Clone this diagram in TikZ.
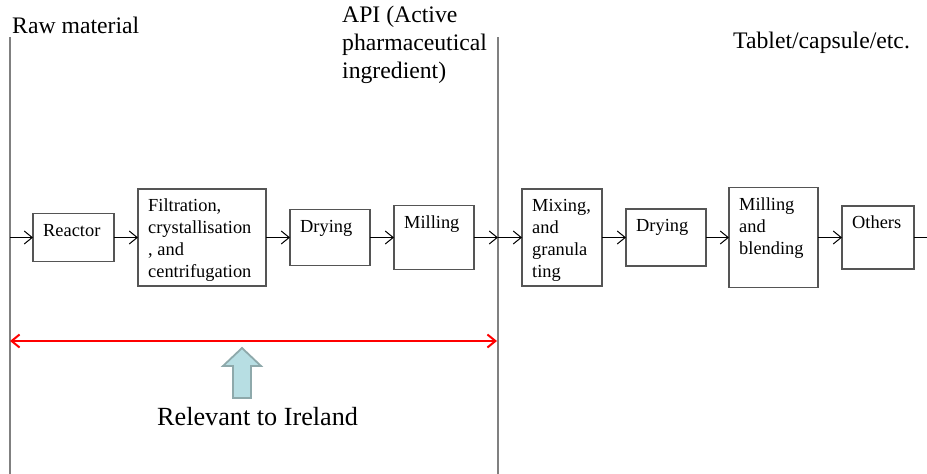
\documentclass[tikz,border=0pt]{standalone}
\usepackage{fontspec}
\setmainfont{Liberation Serif}
\usetikzlibrary{arrows.meta}
\definecolor{boxgray}{HTML}{555555}
\definecolor{vgray}{HTML}{808080}
\definecolor{arrfill}{HTML}{B7DEE3}
\definecolor{arrdraw}{HTML}{8EA9AB}
\newcommand\procbox[5]{%
  \node[procbox, minimum width={#3-#2}, minimum height=#4] (#1) at ({(#2+#3)/2},237.5) {};
  \node[boxtext, anchor=base west] (#1t) at ({#2+10},{237.5-#4/2+22.5}) {\begin{tabular}[t]{@{}l@{}}#5\end{tabular}};}
\begin{document}
\begin{tikzpicture}[x=1pt,y=-1pt,
  procbox/.style={draw=boxgray, line width=1.2pt, inner sep=0pt, outer sep=0pt},
  boxtext/.style={inner sep=0pt, font=\fontsize{18.4}{22}\selectfont},
  hdr/.style={inner sep=0pt, font=\fontsize{23.7}{28}\selectfont},
  bigtext/.style={inner sep=0pt, font=\fontsize{26.2}{31}\selectfont},
  flow/.style={line width=1pt, -{Straight Barb[length=8pt,width=13pt]}},
  plainflow/.style={line width=1pt},
  vline/.style={draw=vgray, line width=1.3pt},
  redarrow/.style={draw=red, line width=2pt, {Straight Barb[length=8pt,width=13pt]}-{Straight Barb[length=8pt,width=13pt]}},
  blockarrow/.style={fill=arrfill, draw=arrdraw, line width=1.8pt, line join=miter}]
\useasboundingbox (0,0) rectangle (927,474);
% dividers
\coordinate (v1t) at (10,37);  \coordinate (v1b) at (10,474);
\coordinate (v2t) at (498,37); \coordinate (v2b) at (498,474);
\draw[vline] (v1t) -- (v1b);
\draw[vline] (v2t) -- (v2b);
% headers
\node[hdr, anchor=base west] (raw) at (12,33) {Raw material};
\node[hdr, anchor=base west] (api) at (342,22) {\begin{tabular}[t]{@{}l@{}}API (Active\\pharmaceutical\\ingredient)\end{tabular}};
\node[hdr, anchor=base west] (tab) at (733,48) {Tablet/capsule/etc.};
% boxes
\procbox{reactor}{33}{114}{48}{Reactor}
\procbox{filt}{138}{266}{97}{Filtration,\\crystallisation\\, and\\centrifugation}
\procbox{dry1}{290}{370}{56}{Drying}
\procbox{mill1}{394}{474}{64}{Milling}
\procbox{mix}{522}{602}{97}{Mixing,\\and\\granula\\ting}
\procbox{dry2}{626}{706}{57}{Drying}
\procbox{millb}{729}{818}{100}{Milling\\and\\blending}
\procbox{others}{842}{914}{63}{Others}
% connectors
\coordinate (in) at (10,237.5);
\coordinate (mid) at (498,237.5);
\coordinate (out) at (927,237.5);
\draw[flow] (in) -- (reactor.west);
\draw[flow] (reactor.east) -- (filt.west);
\draw[flow] (filt.east) -- (dry1.west);
\draw[flow] (dry1.east) -- (mill1.west);
\draw[flow] (mill1.east) -- (mid);
\draw[flow] (mid) -- (mix.west);
\draw[flow] (mix.east) -- (dry2.west);
\draw[flow] (dry2.east) -- (millb.west);
\draw[flow] (millb.east) -- (others.west);
\draw[plainflow] (others.east) -- (out);
% scope arrow
\coordinate (ra) at (10,341);
\coordinate (rb) at (497,341);
\draw[redarrow] (ra) -- (rb);
\draw[blockarrow] (242,348) -- (261,366) -- (251,366) -- (251,398) -- (233,398) -- (233,366) -- (223,366) -- cycle;
\node[bigtext, anchor=base west] (rel) at (157,425) {Relevant to Ireland};
\end{tikzpicture}
\end{document}
